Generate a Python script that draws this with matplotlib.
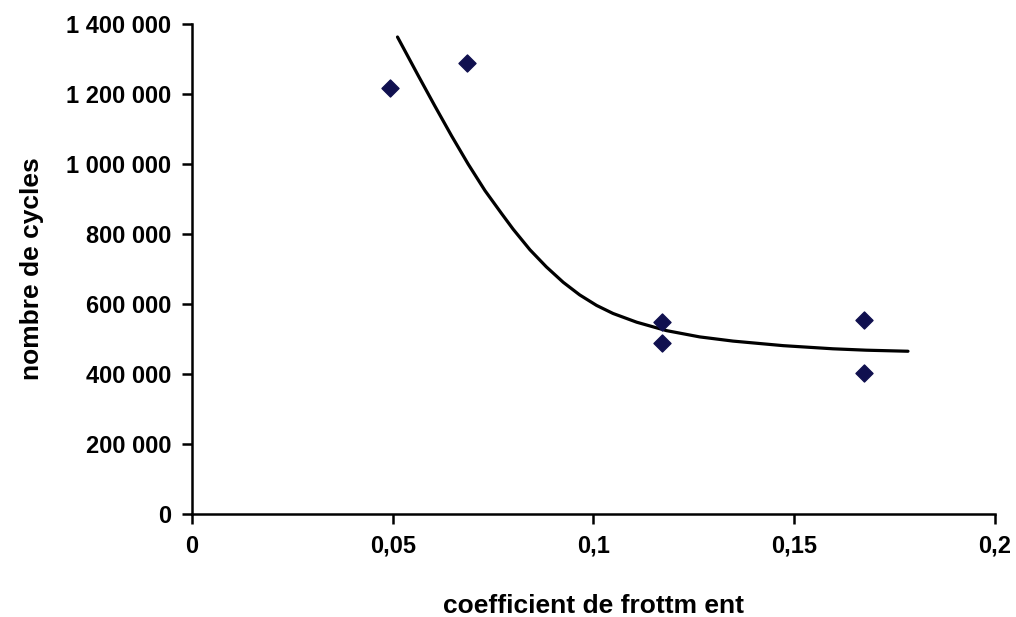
import matplotlib
matplotlib.use('Agg')
import matplotlib.pyplot as plt
from matplotlib.ticker import FuncFormatter

plt.rcParams['font.family'] = ['Liberation Sans', 'DejaVu Sans']

# measured points
coef = [0.0494, 0.0685, 0.117, 0.117, 0.1675, 0.1675]
cycles = [1217000, 1290000, 550000, 489000, 555000, 404000]

# trend curve
curve_x = [0.0512, 0.0564, 0.0605, 0.0647, 0.0688, 0.0730, 0.0771, 0.0800,
           0.0842, 0.0883, 0.0925, 0.0966, 0.1008, 0.1049, 0.1108, 0.1182,
           0.1265, 0.1348, 0.1473, 0.1597, 0.1680, 0.1784]
curve_y = [1363000, 1252000, 1166000, 1080000, 1000000, 924000, 859000, 814000,
           755000, 706000, 662000, 626000, 596000, 573000, 548000, 524000,
           506000, 494000, 481000, 472000, 468000, 465000]

fig = plt.figure(figsize=(10.16, 6.17), dpi=100)
ax = fig.add_axes([0.189, 0.167, 0.790, 0.794])

ax.plot(curve_x, curve_y, color='black', lw=2.3, zorder=2,
        solid_joinstyle='round', solid_capstyle='round')
ax.scatter(coef, cycles, marker='D', s=75, color='#10104f', zorder=3)

ax.set_xlim(0, 0.2)
ax.set_ylim(0, 1400000)
ax.set_xticks([0, 0.05, 0.1, 0.15, 0.2])
ax.set_yticks(range(0, 1400001, 200000))

ax.xaxis.set_major_formatter(FuncFormatter(lambda v, p: ('%g' % v).replace('.', ',')))
ax.yaxis.set_major_formatter(FuncFormatter(lambda v, p: '{:,}'.format(int(v)).replace(',', ' ')))

for s in ['top', 'right']:
    ax.spines[s].set_visible(False)
for s in ['left', 'bottom']:
    ax.spines[s].set_linewidth(1.8)
ax.tick_params(direction='out', length=7, width=1.8, labelsize=17, pad=8)
for lab in ax.get_xticklabels() + ax.get_yticklabels():
    lab.set_fontweight('bold')

ax.set_xlabel('coefficient de frottm ent', fontsize=19, fontweight='bold', labelpad=26)
ax.set_ylabel('nombre de cycles', fontsize=19, fontweight='bold', labelpad=16)

fig.savefig('out.png', dpi=100)
